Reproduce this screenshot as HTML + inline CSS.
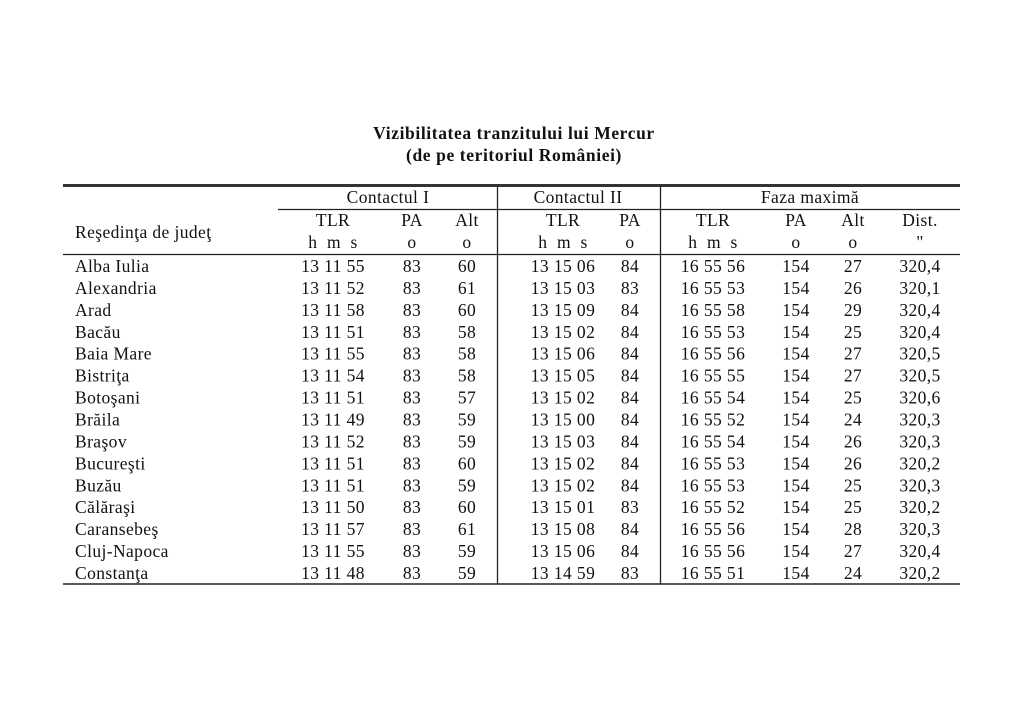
<!DOCTYPE html>
<html><head><meta charset="utf-8"><style>
html,body{margin:0;padding:0;background:#fff;}
svg{display:block;}
text{font-family:"Liberation Serif",serif;font-size:17.5px;letter-spacing:0.4px;fill:#111;}
.t{font-weight:bold;font-size:17.5px;letter-spacing:0.6px;}
</style></head><body>
<svg width="1024" height="722" viewBox="0 0 1024 722">
<text class="t" x="514" y="139" text-anchor="middle">Vizibilitatea tranzitului lui Mercur</text>
<text class="t" x="514" y="161" text-anchor="middle">(de pe teritoriul României)</text>
<line x1="63" y1="185.5" x2="960" y2="185.5" stroke="#333" stroke-width="3"/>
<line x1="278" y1="209.5" x2="960" y2="209.5" stroke="#222" stroke-width="1.3"/>
<line x1="63" y1="254.5" x2="960" y2="254.5" stroke="#222" stroke-width="1.3"/>
<line x1="63" y1="584" x2="960" y2="584" stroke="#222" stroke-width="1.5"/>
<line x1="497.5" y1="185" x2="497.5" y2="584" stroke="#222" stroke-width="1.3"/>
<line x1="660.5" y1="185" x2="660.5" y2="584" stroke="#222" stroke-width="1.3"/>
<g text-anchor="middle">
<text x="388" y="203">Contactul I</text>
<text x="578" y="203">Contactul II</text>
<text x="810" y="203">Faza maximă</text>
<text x="333" y="226">TLR</text><text x="412" y="226">PA</text><text x="467" y="226">Alt</text>
<text x="563" y="226">TLR</text><text x="630" y="226">PA</text>
<text x="713" y="226">TLR</text><text x="796" y="226">PA</text><text x="853" y="226">Alt</text><text x="920" y="226">Dist.</text>
<text x="333" y="248" xml:space="preserve">h  m  s</text><text x="412" y="248">o</text><text x="467" y="248">o</text>
<text x="563" y="248" xml:space="preserve">h  m  s</text><text x="630" y="248">o</text>
<text x="713" y="248" xml:space="preserve">h  m  s</text><text x="796" y="248">o</text><text x="853" y="248">o</text><text x="920" y="248">"</text>
</g>
<text x="75" y="238">Reşedinţa de judeţ</text>
<g id="rows"></g>
</svg>
<script>
var d=[["Alba Iulia","13 11 55",83,60,"13 15 06",84,"16 55 56",154,27,"320,4"],
["Alexandria","13 11 52",83,61,"13 15 03",83,"16 55 53",154,26,"320,1"],
["Arad","13 11 58",83,60,"13 15 09",84,"16 55 58",154,29,"320,4"],
["Bacău","13 11 51",83,58,"13 15 02",84,"16 55 53",154,25,"320,4"],
["Baia Mare","13 11 55",83,58,"13 15 06",84,"16 55 56",154,27,"320,5"],
["Bistriţa","13 11 54",83,58,"13 15 05",84,"16 55 55",154,27,"320,5"],
["Botoşani","13 11 51",83,57,"13 15 02",84,"16 55 54",154,25,"320,6"],
["Brăila","13 11 49",83,59,"13 15 00",84,"16 55 52",154,24,"320,3"],
["Braşov","13 11 52",83,59,"13 15 03",84,"16 55 54",154,26,"320,3"],
["Bucureşti","13 11 51",83,60,"13 15 02",84,"16 55 53",154,26,"320,2"],
["Buzău","13 11 51",83,59,"13 15 02",84,"16 55 53",154,25,"320,3"],
["Călăraşi","13 11 50",83,60,"13 15 01",83,"16 55 52",154,25,"320,2"],
["Caransebeş","13 11 57",83,61,"13 15 08",84,"16 55 56",154,28,"320,3"],
["Cluj-Napoca","13 11 55",83,59,"13 15 06",84,"16 55 56",154,27,"320,4"],
["Constanţa","13 11 48",83,59,"13 14 59",83,"16 55 51",154,24,"320,2"]];
var xs=[333,412,467,563,630,713,796,853,920],s="";
d.forEach(function(r,i){var y=272+i*21.93;
s+='<text x="75" y="'+y+'">'+r[0]+'</text>';
for(var j=1;j<r.length;j++)s+='<text text-anchor="middle" x="'+xs[j-1]+'" y="'+y+'">'+r[j]+'</text>';});
document.getElementById("rows").innerHTML=s;
</script>
</body></html>
